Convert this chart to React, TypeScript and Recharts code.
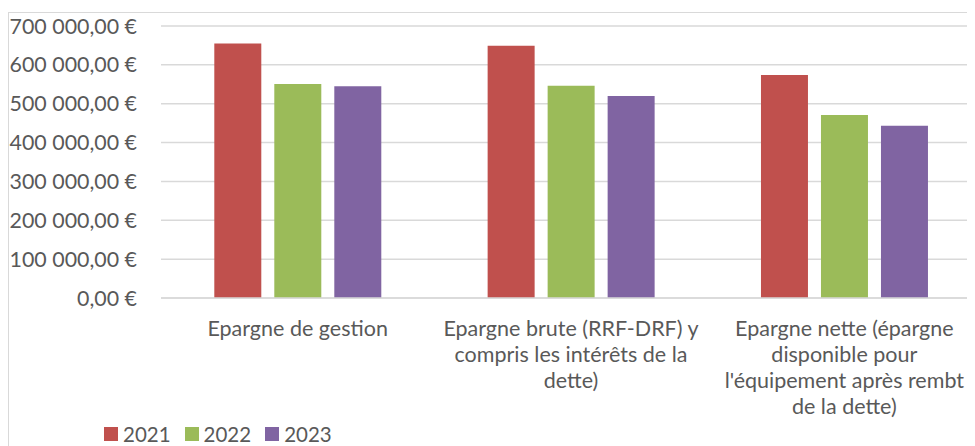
import React from 'react';
import { BarChart, Bar, XAxis, YAxis, CartesianGrid, Legend } from 'recharts';

const categories = [
  'Epargne de gestion',
  'Epargne brute (RRF-DRF) y compris les intérêts de la dette)',
  "Epargne nette (épargne disponible pour l'équipement après rembt de la dette)",
];
const categoryLines = [
  ['Epargne de gestion'],
  ['Epargne brute (RRF-DRF) y', 'compris les intérêts de la', 'dette)'],
  ['Epargne nette (épargne', 'disponible pour', "l'équipement après rembt", 'de la dette)'],
];
const years = ['2021', '2022', '2023'];
const values2021 = [655000, 649000, 574000];
const values2022 = [551000, 546000, 471000];
const values2023 = [545000, 520000, 443000];
const colors = ['#C0504D', '#9BBB59', '#8064A2'];
const yTicks = [0, 100000, 200000, 300000, 400000, 500000, 600000, 700000];

const data = categories.map((c, i) => ({
  name: c,
  idx: i,
  '2021': values2021[i],
  '2022': values2022[i],
  '2023': values2023[i],
}));

const FONT = 'Lato, "Open Sans", sans-serif';
const TEXT = '#595959';

function formatEuro(v: number): string {
  const s = Math.round(v).toString();
  const parts: string[] = [];
  for (let i = s.length; i > 0; i -= 3) {
    parts.unshift(s.slice(Math.max(0, i - 3), i));
  }
  return parts.join(' ') + ',00 €';
}

const XTick = (props: any) => {
  const { x, y, payload } = props;
  const lines = categoryLines[payload.index] || [String(payload.value)];
  return (
    <g>
      {lines.map((l: string, k: number) => (
        <text
          key={k}
          x={x}
          y={y + 37.5 + k * 26.3}
          textAnchor="middle"
          fill={TEXT}
          fontSize={21.5}
          fontFamily={FONT}
        >
          {l}
        </text>
      ))}
    </g>
  );
};

const LegendContent = () => (
  <div style={{ display: 'flex', alignItems: 'center', fontFamily: FONT, fontSize: 20.5, color: TEXT }}>
    {years.map((yr, i) => (
      <div key={yr} style={{ display: 'flex', alignItems: 'center', marginRight: 14 }}>
        <div style={{ width: 14, height: 14, background: colors[i], marginRight: 5 }} />
        <span style={{ lineHeight: '20px' }}>{yr}</span>
      </div>
    ))}
  </div>
);

export default function App() {
  return (
    <div
      style={{
        marginTop: 4,
        width: 966,
        height: 433,
        borderTop: '1px solid #d9d9d9',
        borderLeft: '1px solid #d9d9d9',
        overflow: 'hidden',
        position: 'relative',
        background: '#fff',
      }}
    >
      <BarChart
        width={990}
        height={433}
        data={data}
        margin={{ top: 13, right: 18, left: 0, bottom: 0 }}
        barCategoryGap="19.5%"
        barGap={13}
      >
        <CartesianGrid vertical={false} stroke="#d9d9d9" strokeWidth={1.5} />
        <XAxis
          dataKey="name"
          interval={0}
          height={126}
          tickLine={false}
          tickSize={0}
          tickMargin={0}
          axisLine={{ stroke: '#d9d9d9', strokeWidth: 1.5 }}
          tick={<XTick />}
        />
        <YAxis
          width={152}
          domain={[0, 700000]}
          ticks={yTicks}
          interval={0}
          tickFormatter={formatEuro}
          axisLine={false}
          tickLine={false}
          tickSize={0}
          tickMargin={24}
          tick={{ fill: TEXT, fontSize: 21.4, fontFamily: FONT }}
        />
        <Legend
          verticalAlign="bottom"
          height={22}
          content={<LegendContent />}
          wrapperStyle={{ left: 95, top: 411, width: 300, height: 22 }}
        />
        {years.map((yr, i) => (
          <Bar key={yr} dataKey={yr} fill={colors[i]} isAnimationActive={false} />
        ))}
      </BarChart>
    </div>
  );
}
